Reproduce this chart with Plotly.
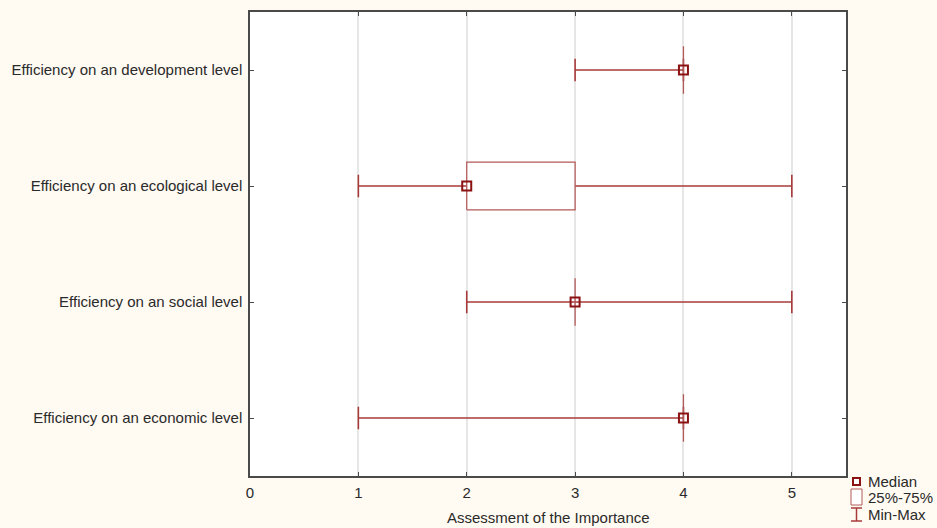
import plotly.graph_objects as go

categories = ["Efficiency on an economic level", "Efficiency on an social level",
              "Efficiency on an ecological level", "Efficiency on an development level"]
mins = [1, 2, 1, 3]
q1s = [4, 3, 2, 4]
medians = [4, 3, 2, 4]
q3s = [4, 3, 3, 4]
maxs = [4, 5, 5, 4]
x_ticks = [0, 1, 2, 3, 4, 5]
x_title = "Assessment of the Importance"

WHISK = "#a83a3a"
BOX = "#b25a58"
MED = "#8b1212"
BOX_H = 0.205
CAP_H = 0.097

fig = go.Figure()
for i, cat in enumerate(categories):
    y = i
    fig.add_trace(go.Scatter(x=[mins[i], maxs[i]], y=[y, y], mode="lines",
                             line=dict(color=WHISK, width=1.6), showlegend=False, hoverinfo="skip"))
    for v in (mins[i], maxs[i]):
        fig.add_trace(go.Scatter(x=[v, v], y=[y - CAP_H, y + CAP_H], mode="lines",
                                 line=dict(color=WHISK, width=1.6), showlegend=False, hoverinfo="skip"))
    fig.add_trace(go.Scatter(x=[q1s[i], q3s[i], q3s[i], q1s[i], q1s[i]],
                             y=[y - BOX_H, y - BOX_H, y + BOX_H, y + BOX_H, y - BOX_H],
                             mode="lines", fill="toself", fillcolor="rgba(255,255,255,1)",
                             line=dict(color=BOX, width=1.3), showlegend=False, hoverinfo="skip"))
    fig.add_trace(go.Scatter(x=[medians[i]], y=[y], mode="markers",
                             marker=dict(symbol="square-open", size=9, color=MED, line=dict(width=2, color=MED)),
                             showlegend=False, hoverinfo="skip"))

W, H = 937, 528
L, R, T, B = 250, 91, 12, 52

fig.update_layout(
    width=W, height=H, autosize=False,
    margin=dict(l=L, r=R, t=T, b=B),
    paper_bgcolor="#fffaf2", plot_bgcolor="white",
    font=dict(family="Liberation Sans, Arial, sans-serif", size=15, color="#2a2a2a"),
    xaxis=dict(range=[0, 5.5], tickvals=x_ticks, ticktext=[str(t) for t in x_ticks],
               showgrid=True, gridcolor="#e6e6e6", gridwidth=1.5, zeroline=False,
               showline=True, linecolor="#4a4a4a", linewidth=1.5, mirror="ticks",
               ticks="inside", ticklen=4, tickcolor="#4a4a4a", ticklabelstandoff=2,
               automargin=False),
    yaxis=dict(range=[-0.5, 3.5], tickvals=list(range(len(categories))), ticktext=categories,
               showgrid=False, zeroline=False, showline=True, linecolor="#4a4a4a", linewidth=1.5,
               mirror="ticks", ticks="inside", ticklen=4, tickcolor="#4a4a4a", ticklabelstandoff=3,
               automargin=False),
    showlegend=False,
)

def px(xp):
    return (xp - L) / (W - L - R)
def py(yp):
    return 1 - (yp - T) / (H - T - B)

shapes = [
    dict(type="rect", xref="paper", yref="paper", x0=px(853), x1=px(860), y0=py(485), y1=py(478),
         line=dict(color=MED, width=2), fillcolor="white"),
    dict(type="rect", xref="paper", yref="paper", x0=px(851), x1=px(862), y0=py(505), y1=py(489),
         line=dict(color=BOX, width=1), fillcolor="white"),
    dict(type="line", xref="paper", yref="paper", x0=px(856.5), x1=px(856.5), y0=py(521), y1=py(508),
         line=dict(color=WHISK, width=1.5)),
    dict(type="line", xref="paper", yref="paper", x0=px(851), x1=px(862), y0=py(508), y1=py(508),
         line=dict(color=WHISK, width=1.5)),
    dict(type="line", xref="paper", yref="paper", x0=px(851), x1=px(862), y0=py(521), y1=py(521),
         line=dict(color=WHISK, width=1.5)),
]
annotations = [
    dict(text=t, xref="paper", yref="paper", x=px(866), y=py(yy), xanchor="left", yanchor="middle",
         showarrow=False, font=dict(size=15, color="#2a2a2a"))
    for t, yy in [("Median", 481), ("25%-75%", 497), ("Min-Max", 514)]
]
annotations.append(dict(text=x_title, xref="paper", yref="paper", x=0.5, y=py(517),
                        xanchor="center", yanchor="middle", showarrow=False,
                        font=dict(size=15, color="#2a2a2a")))
fig.update_layout(shapes=shapes, annotations=annotations)

fig.write_html("out.html",
               config={"displayModeBar": False, "responsive": False},
               post_script="document.body.style.margin='0';document.body.style.overflow='hidden';")
